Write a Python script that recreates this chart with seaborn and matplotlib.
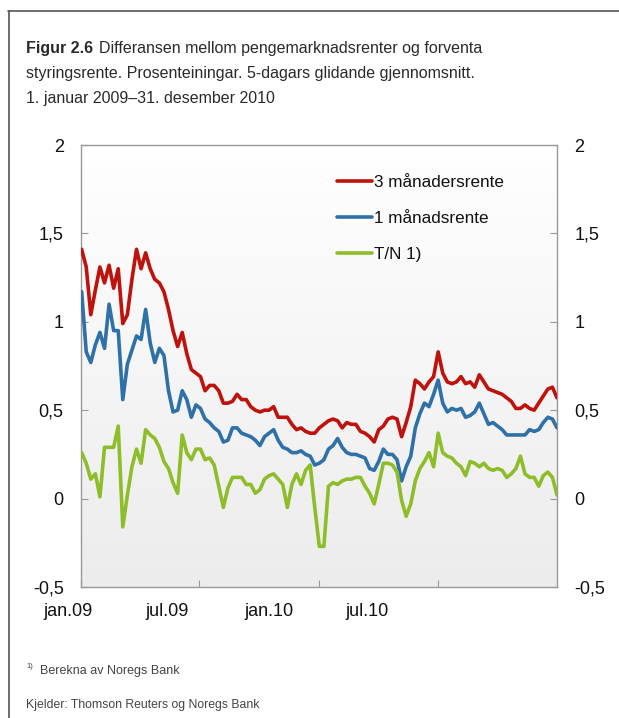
import numpy as np
import pandas as pd
import matplotlib
matplotlib.use("Agg")
import matplotlib.pyplot as plt
import seaborn as sns
from matplotlib.colors import LinearSegmentedColormap
from matplotlib.lines import Line2D

# weekly readings, 2 jan 2009 - 31 dec 2010
dates = pd.date_range("2009-01-02", periods=105, freq="7D")

rate_3m = [
    1.41, 1.31, 1.04, 1.18, 1.31, 1.22, 1.32, 1.19, 1.30, 0.99,
    1.04, 1.24, 1.41, 1.30, 1.39, 1.30, 1.24, 1.22, 1.17, 1.07,
    0.95, 0.86, 0.94, 0.82, 0.73, 0.71, 0.69, 0.61, 0.64, 0.64,
    0.61, 0.54, 0.54, 0.55, 0.59, 0.56, 0.56, 0.52, 0.50, 0.49,
    0.50, 0.50, 0.52, 0.46, 0.46, 0.46, 0.42, 0.39, 0.40, 0.38,
    0.37, 0.37, 0.40, 0.42, 0.44, 0.45, 0.44, 0.40, 0.43, 0.42,
    0.42, 0.38, 0.37, 0.35, 0.32, 0.39, 0.41, 0.45, 0.46, 0.45,
    0.35, 0.43, 0.52, 0.67, 0.65, 0.62, 0.66, 0.69, 0.83, 0.71,
    0.66, 0.65, 0.66, 0.69, 0.65, 0.66, 0.63, 0.70, 0.66, 0.62,
    0.61, 0.60, 0.59, 0.57, 0.55, 0.51, 0.51, 0.53, 0.51, 0.50,
    0.54, 0.58, 0.62, 0.63, 0.57]

rate_1m = [
    1.17, 0.83, 0.77, 0.87, 0.94, 0.85, 1.10, 0.95, 0.95, 0.56,
    0.76, 0.84, 0.92, 0.90, 1.07, 0.88, 0.77, 0.85, 0.81, 0.61,
    0.49, 0.50, 0.61, 0.56, 0.46, 0.53, 0.51, 0.45, 0.43, 0.40,
    0.38, 0.32, 0.33, 0.40, 0.40, 0.37, 0.36, 0.35, 0.33, 0.30,
    0.35, 0.37, 0.39, 0.33, 0.29, 0.28, 0.26, 0.26, 0.27, 0.25,
    0.24, 0.19, 0.20, 0.22, 0.28, 0.30, 0.34, 0.29, 0.26, 0.25,
    0.25, 0.24, 0.23, 0.17, 0.16, 0.21, 0.28, 0.25, 0.25, 0.22,
    0.10, 0.18, 0.24, 0.40, 0.48, 0.54, 0.52, 0.59, 0.67, 0.54,
    0.49, 0.51, 0.50, 0.51, 0.46, 0.47, 0.49, 0.54, 0.48, 0.42,
    0.43, 0.41, 0.39, 0.36, 0.36, 0.36, 0.36, 0.36, 0.39, 0.38,
    0.39, 0.43, 0.46, 0.45, 0.40]

rate_tn = [
    0.26, 0.20, 0.11, 0.14, 0.01, 0.29, 0.29, 0.29, 0.41, -0.16,
    0.02, 0.18, 0.28, 0.20, 0.39, 0.36, 0.34, 0.29, 0.21, 0.17,
    0.09, 0.03, 0.36, 0.26, 0.22, 0.28, 0.28, 0.22, 0.23, 0.19,
    0.07, -0.05, 0.06, 0.12, 0.12, 0.12, 0.08, 0.08, 0.03, 0.05,
    0.11, 0.13, 0.14, 0.11, 0.08, -0.05, 0.08, 0.14, 0.08, 0.16,
    0.19, -0.05, -0.27, -0.27, 0.07, 0.09, 0.08, 0.10, 0.11, 0.11,
    0.12, 0.12, 0.07, 0.03, -0.03, 0.08, 0.20, 0.20, 0.19, 0.15,
    -0.01, -0.10, -0.03, 0.10, 0.17, 0.21, 0.26, 0.18, 0.37, 0.26,
    0.24, 0.23, 0.20, 0.18, 0.13, 0.21, 0.20, 0.18, 0.20, 0.17,
    0.16, 0.17, 0.16, 0.12, 0.14, 0.17, 0.24, 0.14, 0.12, 0.12,
    0.07, 0.13, 0.15, 0.12, 0.02]

series_names = ["3 månadersrente", "1 månadsrente", "T/N 1)"]
series_colors = ["#C0120C", "#2E70A8", "#8DBE2A"]

y_ticks = [-0.5, 0, 0.5, 1, 1.5, 2]
y_labels = ["-0,5", "0", "0,5", "1", "1,5", "2"]
x_ticks = pd.to_datetime(["2009-01-01", "2009-07-01", "2010-01-01", "2010-07-01"])
x_labels = ["jan.09", "jul.09", "jan.10", "jul.10"]

sns.set_style("ticks")
plt.rcParams["font.family"] = ["Liberation Sans", "DejaVu Sans"]

W, H = 619, 718
fig = plt.figure(figsize=(W / 100, H / 100), dpi=100)
fig.patch.set_facecolor("white")

ax = fig.add_axes([81 / W, 1 - 587 / H, 476 / W, 442 / H])

# light vertical gradient behind the lines
grad = np.linspace(0, 1, 256).reshape(-1, 1)
cmap = LinearSegmentedColormap.from_list("bg", ["#ffffff", "#ececec"])
ax.imshow(grad, extent=(0, 1, 0, 1), transform=ax.transAxes, cmap=cmap,
          aspect="auto", zorder=0, interpolation="bicubic")

for vals, name, col in zip([rate_3m, rate_1m, rate_tn], series_names, series_colors):
    sns.lineplot(x=dates, y=vals, color=col, lw=2.6, label=name, ax=ax, zorder=3)

ax.set_xlim(pd.Timestamp("2009-01-01"), pd.Timestamp("2010-12-31"))
ax.set_ylim(-0.5, 2)
ax.set_xlabel("")
ax.set_ylabel("")

ax.set_yticks(y_ticks)
ax.set_yticklabels(y_labels)
ax.tick_params(axis="y", left=True, right=True, labelleft=True, labelright=True,
               direction="in", length=5, color="#999999", labelsize=13, pad=12.5,
               labelcolor="#111111")
ax.set_xticks(x_ticks)
ax.set_xticklabels([])
ax.tick_params(axis="x", bottom=True, direction="in", length=5, color="#999999")

for s in ax.spines.values():
    s.set_color("#999999")
    s.set_linewidth(1.0)
    s.set_visible(True)

# x labels sit left of their ticks in the original
for lab, px in zip(x_labels, [68, 167, 269, 367]):
    fig.text(px / W, 1 - 612 / H, lab, ha="center", va="center", fontsize=13, color="#111111")

leg = ax.legend(loc="upper left", bbox_to_anchor=((337 - 81) / 476, (587 - 175) / 442),
                frameon=False, handlelength=2.05, handletextpad=0.12, labelspacing=1.22,
                borderaxespad=0, borderpad=0, fontsize=12.3)
for t in leg.get_texts():
    t.set_color("#111111")

# title
tcol = "#2a2a2a"
t1 = fig.text(26 / W, 1 - 53 / H, "Figur 2.6", fontsize=11.5, fontweight="bold",
              color=tcol, va="baseline")
fig.canvas.draw()
bb = t1.get_window_extent()
fig.text((bb.x1 + 6) / W, 1 - 53 / H, "Differansen mellom pengemarknadsrenter og forventa",
         fontsize=11.5, color=tcol, va="baseline")
fig.text(26 / W, 1 - 78 / H, "styringsrente. Prosenteiningar. 5-dagars glidande gjennomsnitt.",
         fontsize=11.5, color=tcol, va="baseline")
fig.text(26 / W, 1 - 103 / H, "1. januar 2009\u201331. desember 2010",
         fontsize=11.5, color=tcol, va="baseline")

# footnotes
fcol = "#444444"
fig.text(26 / W, 1 - 668 / H, "1)", fontsize=5.5, color=fcol, va="baseline")
fig.text(40 / W, 1 - 674 / H, "Berekna av Noregs Bank", fontsize=9, color=fcol, va="baseline")
fig.text(26 / W, 1 - 708 / H, "Kjelder: Thomson Reuters og Noregs Bank", fontsize=8.8,
         color=fcol, va="baseline")

# outer frame (left and top only visible)
fig.add_artist(Line2D([8.5 / W, 8.5 / W], [0, 1 - 11 / H], transform=fig.transFigure,
                      color="#555555", lw=1.2))
fig.add_artist(Line2D([8 / W, 1], [1 - 11 / H, 1 - 11 / H], transform=fig.transFigure,
                      color="#555555", lw=1.2))

fig.savefig("out.png", dpi=100)
